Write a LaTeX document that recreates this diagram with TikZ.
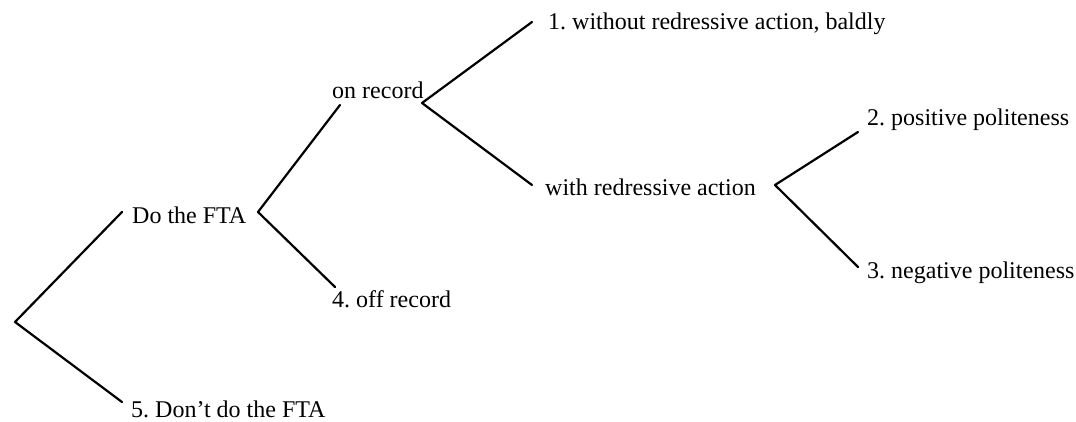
\documentclass[tikz,border=0pt]{standalone}
\usepackage{fontspec}
\setmainfont{Liberation Serif}
\usepackage{tikz}
\usetikzlibrary{arrows.meta}
\frenchspacing

\begin{document}
\begin{tikzpicture}[x=1pt,y=-1pt,
    branch/.style={line width=2.2pt,line cap=round,line join=round},
    leaf/.style={anchor=base west,inner sep=0pt,font=\fontsize{24}{28}\selectfont}]
      \useasboundingbox (0,0) rectangle (1076,422);

      % forks of the tree
      \coordinate (root) at (15,322);
      \coordinate (fta) at (258,212);
      \coordinate (onrec) at (422,103);
      \coordinate (redress) at (775,185);

      % free ends of the branches
      \coordinate (root-up) at (122,212);
      \coordinate (root-dn) at (122,402);
      \coordinate (fta-up) at (340,105);
      \coordinate (fta-dn) at (335,287);
      \coordinate (onrec-up) at (532,22);
      \coordinate (onrec-dn) at (532,185);
      \coordinate (redress-up) at (858,132);
      \coordinate (redress-dn) at (858,267);

      % labels
      \node [leaf] (dofta) at (132,223) {Do the FTA};
      \node [leaf] (dontfta) at (131,417) {5. Don't do the FTA};
      \node [leaf] (onrecord) at (332,99) {on record};
      \node [leaf] (offrecord) at (332,307) {4. off record};
      \node [leaf] (baldly) at (548,30) {1. without redressive action, baldly};
      \node [leaf] (withred) at (545,196) {with redressive action};
      \node [leaf] (positive) at (867,126) {2. positive politeness};
      \node [leaf] (negative) at (867,278) {3. negative politeness};

      \draw [branch] (root-up) -- (root) -- (root-dn);
      \draw [branch] (fta-up) -- (fta) -- (fta-dn);
      \draw [branch] (onrec-up) -- (onrec) -- (onrec-dn);
      \draw [branch] (redress-up) -- (redress) -- (redress-dn);

    \end{tikzpicture}
\end{document}
